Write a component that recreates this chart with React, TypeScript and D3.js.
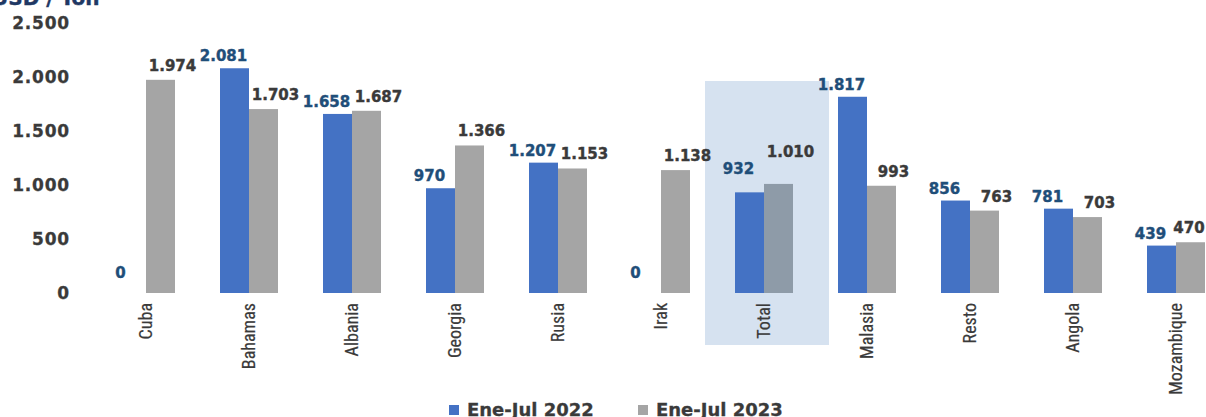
import React from "react";
import * as d3 from "d3";

const categories = ["Cuba", "Bahamas", "Albania", "Georgia", "Rusia", "Irak", "Total", "Malasia", "Resto", "Angola", "Mozambique"];
const values2022 = [0, 2081, 1658, 970, 1207, 0, 932, 1817, 856, 781, 439];
const values2023 = [1974, 1703, 1687, 1366, 1153, 1138, 1010, 993, 763, 703, 470];
const yTicks = [0, 500, 1000, 1500, 2000, 2500];
const seriesNames = ["Ene-Jul 2022", "Ene-Jul 2023"];

const W = 1206;
const H = 417;
const BLUE = "#4472C4";
const GRAY = "#A5A5A5";
const TOTAL_GRAY = "#8E9BA8";
const BLUE_TXT = "#1F4E79";
const DARK_TXT = "#3A3A3A";
const NUM_FONT = "'DejaVu Sans', Verdana, sans-serif";
const NARROW = "'Liberation Sans Narrow', 'Arial Narrow', 'Roboto Condensed', sans-serif";

const fmt = (v: number) => {
  const s = String(v);
  return s.length > 3 ? s.slice(0, s.length - 3) + "." + s.slice(-3) : s;
};

export default function App() {
  const x = d3.scaleBand<string>().domain(categories).range([94.5, 94.5 + 103 * categories.length]).paddingInner(0);
  const y = d3.scaleLinear().domain([0, 2500]).range([293, 23]);
  const bw = 29;
  const cx = (c: string) => (x(c) as number) + x.bandwidth() / 2;
  const totalX = cx("Total");

  return (
    <svg width={W} height={H} style={{ position: "absolute", left: 0, top: 0, background: "#fff" }}>
      <rect x={totalX - 59} y={81} width={124} height={264} fill="#D6E2F0" />
      <text x={-8} y={5} fontFamily={NUM_FONT} fontWeight="bold" fontSize={20} fill="#1F3864" stroke="#1F3864" strokeWidth={0.4}>USD / Ton</text>
      {yTicks.map((t) => (
        <text key={t} x={70} y={y(t)} dy="0.35em" textAnchor="end" fontFamily={NUM_FONT} fontWeight="bold" fontSize={17} letterSpacing={0.8} fill={DARK_TXT} stroke={DARK_TXT} strokeWidth={0.3}>
          {fmt(t)}
        </text>
      ))}
      {categories.map((c, i) => {
        const c0 = cx(c);
        const v1 = values2022[i];
        const v2 = values2023[i];
        const isTotal = c === "Total";
        return (
          <g key={c}>
            {v1 > 0 && <rect x={c0 - bw} y={y(v1)} width={bw} height={y(0) - y(v1)} fill={BLUE} />}
            <rect x={c0} y={y(v2)} width={bw} height={y(0) - y(v2)} fill={isTotal ? TOTAL_GRAY : GRAY} />
            <text x={c0 - bw / 2 - 11} y={Math.min(y(v1) - 7, 278) - (isTotal ? 11 : 0)} textAnchor="middle" fontFamily={NUM_FONT} fontWeight="bold" fontSize={15} fill={BLUE_TXT} stroke={BLUE_TXT} strokeWidth={0.4}>
              {fmt(v1)}
            </text>
            <text x={Math.min(c0 + bw / 2 + 12, 1189)} y={y(v2) - 9 - (isTotal ? 18 : 0)} textAnchor="middle" fontFamily={NUM_FONT} fontWeight="bold" fontSize={15} fill={DARK_TXT} stroke={DARK_TXT} strokeWidth={0.4}>
              {fmt(v2)}
            </text>
            <text transform={`translate(${c0 + 6},303) rotate(-90)`} textAnchor="end" fontFamily={NARROW} fontSize={18} fill={DARK_TXT} stroke={DARK_TXT} strokeWidth={0.2}>
              {c}
            </text>
          </g>
        );
      })}
      {seriesNames.map((s, i) => {
        const lx = i === 0 ? 449 : 638;
        return (
          <g key={s}>
            <rect x={lx} y={405} width={10} height={10} fill={i === 0 ? BLUE : GRAY} />
            <text x={lx + 18} y={416} fontFamily={NUM_FONT} fontWeight="bold" fontSize={18} fill={DARK_TXT} stroke={DARK_TXT} strokeWidth={0.3}>{s}</text>
          </g>
        );
      })}
    </svg>
  );
}
